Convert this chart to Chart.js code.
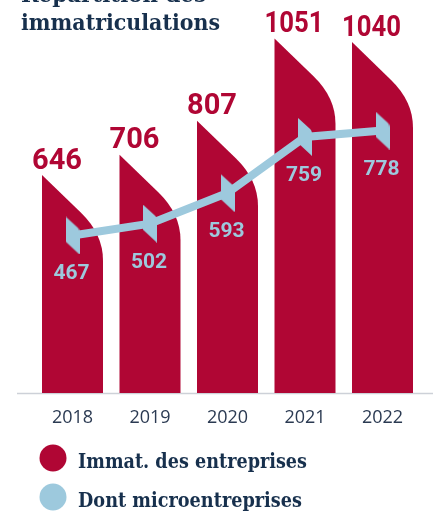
<!DOCTYPE html>
<html>
<head>
<meta charset="utf-8">
<script src="https://cdn.jsdelivr.net/npm/chart.js@4"></script>
<style>
  html, body { margin: 0; padding: 0; background: #fff; }
  #wrap { width: 433px; height: 513px; position: relative; }
</style>
</head>
<body>
<div id="wrap"><canvas id="chart" width="433" height="513"></canvas></div>
<script>
// données
const years = ['2018', '2019', '2020', '2021', '2022'];
const immatriculations = [646, 706, 807, 1051, 1040];
const microentreprises = [467, 502, 593, 759, 778];
const seriesLabels = ['Immat. des entreprises', 'Dont microentreprises'];
const titleLines = ['Répartition des', 'immatriculations'];

const RED = '#b00634';
const BLUE = '#9dc9dd';
const NAVY = '#17304d';

// marqueur en forme de fanion pour la ligne
function makeMarker() {
    const c = document.createElement('canvas');
    c.width = 14;
    c.height = 38;
    const g = c.getContext('2d');
    g.fillStyle = BLUE;
    g.beginPath();
    g.moveTo(0, 0);
    g.lineTo(11, 10);
    g.quadraticCurveTo(14, 12, 14, 16);
    g.lineTo(14, 38);
    g.lineTo(0, 25);
    g.closePath();
    g.fill();
    return c;
}

// forme de barre : bord gauche droit, haut en biais puis arrondi
function leafPath(ctx, x, top, base, w) {
    const l = x - w / 2, r = x + w / 2;
    ctx.beginPath();
    ctx.moveTo(l, base);
    ctx.lineTo(l, top);
    ctx.lineTo(l + w * 0.64, top + w * 0.62);
    ctx.quadraticCurveTo(r, top + w * 0.97, r, top + w * 1.4);
    ctx.lineTo(r, base);
    ctx.closePath();
}

const customDraw = {
    id: 'customDraw',
    beforeDatasetsDraw(chart) {
        const ctx = chart.ctx;
        const y0 = chart.scales.y.getPixelForValue(0);
        ctx.save();
        ctx.strokeStyle = '#cdd1d8';
        ctx.lineWidth = 1.5;
        ctx.beginPath();
        ctx.moveTo(17, y0 + 0.5);
        ctx.lineTo(433, y0 + 0.5);
        ctx.stroke();
        ctx.restore();
    },
    beforeDatasetDraw(chart, args) {
        if (args.meta.type !== 'bar') return;
        const ctx = chart.ctx;
        const ds = chart.data.datasets[args.index];
        ctx.save();
        ctx.fillStyle = ds.backgroundColor;
        args.meta.data.forEach(el => {
            leafPath(ctx, el.x, el.y, el.base, el.width);
            ctx.fill();
        });
        ctx.restore();
        return false;
    },
    afterDatasetsDraw(chart) {
        const ctx = chart.ctx;
        ctx.save();
        chart.data.datasets.forEach((ds, i) => {
            const meta = chart.getDatasetMeta(i);
            meta.data.forEach((el, j) => {
                if (meta.type === 'bar') {
                    ctx.font = 'bold 29px Roboto';
                    ctx.fillStyle = RED;
                    ctx.textAlign = 'left';
                    ctx.textBaseline = 'alphabetic';
                    ctx.fillText(String(ds.data[j]), el.x - el.width / 2 - 10, el.y - 6.5, 59);
                } else {
                    ctx.font = 'bold 21px Roboto';
                    ctx.fillStyle = BLUE;
                    ctx.textAlign = 'center';
                    ctx.textBaseline = 'alphabetic';
                    ctx.fillText(String(ds.data[j]), el.x - 1, el.y + 44);
                }
            });
        });
        ctx.restore();
    },
    afterDraw(chart) {
        const ctx = chart.ctx;
        ctx.save();
        // titre (coupé en haut comme sur l'original)
        ctx.fillStyle = NAVY;
        ctx.font = 'bold 23px "DejaVu Serif"';
        ctx.textAlign = 'left';
        ctx.textBaseline = 'alphabetic';
        ctx.fillText(titleLines[0], 21, 2, 185);
        ctx.fillText(titleLines[1], 21, 30, 199);
        // légende
        const rows = [458, 497];
        chart.data.datasets.forEach((ds, i) => {
            ctx.fillStyle = ds.backgroundColor;
            ctx.beginPath();
            ctx.arc(53, rows[i], 13.5, 0, Math.PI * 2);
            ctx.fill();
            ctx.fillStyle = NAVY;
            ctx.font = 'bold 21px "DejaVu Serif"';
            ctx.fillText(ds.label, 78, rows[i] + 9.5, i === 0 ? 229 : 224);
        });
        ctx.restore();
    }
};

new Chart(document.getElementById('chart'), {
    type: 'bar',
    data: {
        labels: years,
        datasets: [
            {
                type: 'bar',
                label: seriesLabels[0],
                data: immatriculations,
                backgroundColor: RED,
                categoryPercentage: 1,
                barPercentage: 0.787,
                order: 1
            },
            {
                type: 'line',
                label: seriesLabels[1],
                data: microentreprises,
                backgroundColor: BLUE,
                borderColor: BLUE,
                borderWidth: 8,
                tension: 0,
                pointStyle: makeMarker(),
                pointRadius: 1,
                pointBorderWidth: 0,
                order: 0
            }
        ]
    },
    options: {
        responsive: false,
        animation: false,
        layout: { padding: { top: 5, left: 33.75, right: 11.75, bottom: 80 } },
        plugins: {
            legend: { display: false },
            tooltip: { enabled: false },
            title: { display: false }
        },
        scales: {
            x: {
                offset: true,
                grid: { display: false },
                border: { display: false },
                ticks: {
                    color: '#2b3a52',
                    font: { family: '"Open Sans"', size: 18 },
                    padding: 6
                },
                afterFit(scale) { scale.height = 40; }
            },
            y: {
                display: false,
                min: 0,
                max: 1150
            }
        }
    },
    plugins: [customDraw]
});
</script>
</body>
</html>
